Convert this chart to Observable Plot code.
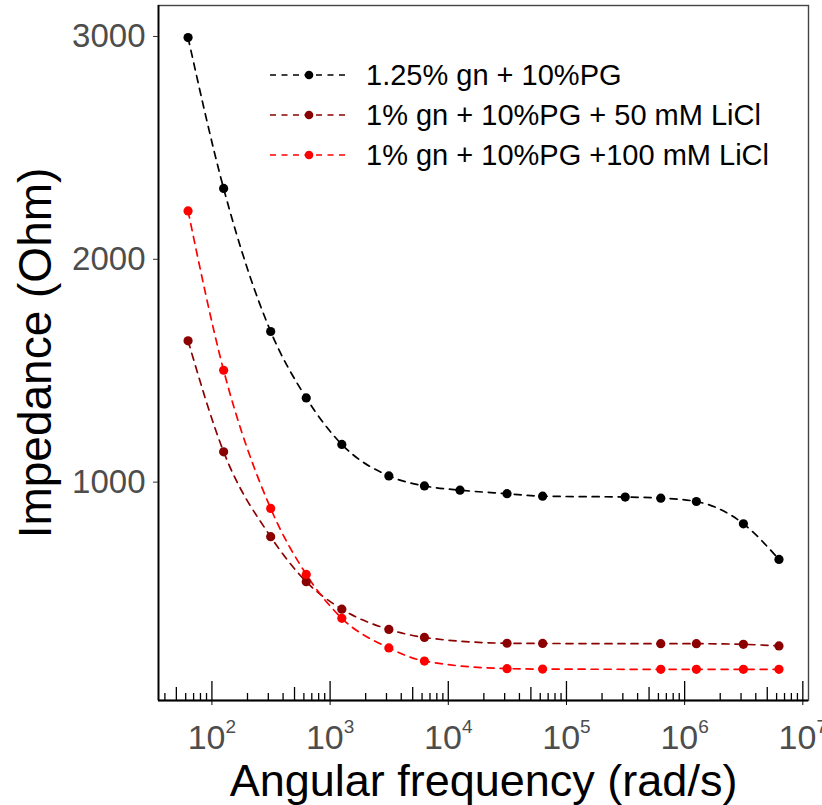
<!DOCTYPE html>
<html>
<head>
<meta charset="utf-8">
<script src="https://cdn.jsdelivr.net/npm/d3@7"></script>
<script src="https://cdn.jsdelivr.net/npm/@observablehq/plot@0.6"></script>
<style>
  html, body { margin: 0; padding: 0; background: #fff; overflow: hidden; }
  #chart { position: relative; width: 822px; height: 805px; }
  #chart svg { font-family: "Liberation Sans", Arial, sans-serif; }
  #legend { position: absolute; left: 0; top: 0; }
</style>
</head>
<body>
<div id="chart"></div>
<script>
// ---- Data ----
// Angular frequency (rad/s) = 2*pi*f
const freqBlack = [62.83, 125.66, 314.16, 628.32, 1256.6, 3141.6, 6283.2, 12566, 31416, 62832, 314159, 628319, 1256637, 3141593, 6283185];
const freqLiCl  = [62.83, 125.66, 314.16, 628.32, 1256.6, 3141.6, 6283.2, 31416, 62832, 628319, 1256637, 3141593, 6283185];

const seriesNames = ["1.25% gn + 10%PG", "1% gn + 10%PG + 50 mM LiCl", "1% gn + 10%PG +100 mM LiCl"];
const seriesColors = ["#000000", "#8B0000", "#FF0000"];

const impBlack   = [2995, 2318, 1676, 1378, 1169, 1028, 983, 964, 948, 937, 933, 928, 913, 813, 653];
const imp50LiCl  = [1634, 1136, 755, 553, 430, 339, 303, 277, 276, 275, 275, 272, 265];
const imp100LiCl = [2217, 1502, 882, 586, 389, 256, 197, 163, 161, 160, 160, 160, 160];

const yTicks = [1000, 2000, 3000];
const xMajor = [1e2, 1e3, 1e4, 1e5, 1e6, 1e7];

// ---- Build table ----
const seriesFreq = [freqBlack, freqLiCl, freqLiCl];
const seriesVals = [impBlack, imp50LiCl, imp100LiCl];
const data = [];
seriesNames.forEach((name, i) => {
  seriesVals[i].forEach((v, j) => data.push({series: name, w: seriesFreq[i][j], z: v}));
});

const xMid = [], xMinor = [];
for (let e = 1; e <= 6; e++) {
  for (let m = 2; m <= 9; m++) {
    const v = m * Math.pow(10, e);
    if (v < 36 || v > 1.1e7) continue;
    if (m === 5) xMid.push(v); else xMinor.push(v);
  }
}

const xDomain = [Math.pow(10, 1.548), Math.pow(10, 7.048)];
const yDomain = [20, 3139];

const plot = Plot.plot({
  width: 822,
  height: 805,
  marginLeft: 158,
  marginRight: 14,
  marginTop: 5,
  marginBottom: 105,
  style: {fontFamily: "'Liberation Sans', Arial, sans-serif", background: "white", overflow: "hidden"},
  x: {type: "log", domain: xDomain},
  y: {domain: yDomain},
  color: {domain: seriesNames, range: seriesColors},
  marks: [
    Plot.frame({stroke: "#444", strokeWidth: 1.4}),
    Plot.ruleX([xDomain[0]], {stroke: "#000", strokeWidth: 1.8}),
    Plot.ruleY([yDomain[0]], {stroke: "#000", strokeWidth: 1.8}),
    Plot.axisY({ticks: yTicks, tickSize: 5, tickPadding: 8, fontSize: 33, fill: "#4D4D4D", stroke: "#333",
                tickFormat: d => String(d), label: null}),
    Plot.axisX({ticks: xMajor, tickSize: 5, tickPadding: 19, fontSize: 34, fill: "#4D4D4D", stroke: "#000",
                tickFormat: d => "10^" + Math.round(Math.log10(d)), label: null}),
    Plot.axisX({ticks: xMajor, tickSize: -19, tickFormat: () => "", stroke: "#000", strokeWidth: 1.3, label: null}),
    Plot.axisX({ticks: xMid, tickSize: -13, tickFormat: () => "", stroke: "#000", strokeWidth: 1.3, label: null}),
    Plot.axisX({ticks: xMinor, tickSize: -7, tickFormat: () => "", stroke: "#000", strokeWidth: 1.3, label: null}),
    Plot.line(data, {x: "w", y: "z", z: "series", stroke: "series", strokeWidth: 1.7, strokeDasharray: "7,6", curve: "monotone-x"}),
    Plot.dot(data, {x: "w", y: "z", fill: "series", r: 4.6, stroke: null}),
    Plot.text(["Impedance (Ohm)"], {frameAnchor: "left", dx: -108, rotate: -90, textAnchor: "middle", lineAnchor: "bottom", fontSize: 46, fill: "#000"}),
    Plot.text(["Angular frequency (rad/s)"], {frameAnchor: "bottom", dy: 95, textAnchor: "middle", lineAnchor: "bottom", fontSize: 45, fill: "#000"})
  ]
});

document.getElementById("chart").appendChild(plot);

// superscript exponents on x tick labels
d3.select(plot).selectAll("text").each(function() {
  const t = this.textContent;
  const m = /^10\^(\d+)$/.exec(t);
  if (m) {
    const sel = d3.select(this);
    sel.text("10");
    sel.append("tspan").attr("dy", "-16").attr("font-size", 19).text(m[1]);
  }
});

// ---- Legend overlay ----
const leg = d3.select("#chart").append("svg")
  .attr("id", "legend").attr("width", 822).attr("height", 805)
  .style("font-family", "'Liberation Sans', Arial, sans-serif")
  .style("pointer-events", "none");
seriesNames.forEach((name, i) => {
  const cy = 75 + 40 * i;
  const g = leg.append("g");
  g.append("line").attr("x1", 270).attr("x2", 346).attr("y1", cy).attr("y2", cy)
    .attr("stroke", seriesColors[i]).attr("stroke-width", 1.7).attr("stroke-dasharray", "6,5.5");
  g.append("circle").attr("cx", 309).attr("cy", cy).attr("r", 4.3).attr("fill", seriesColors[i]);
  g.append("text").attr("x", 366).attr("y", cy + 10).attr("font-size", 29).attr("fill", "#000").text(name);
});
</script>
</body>
</html>
